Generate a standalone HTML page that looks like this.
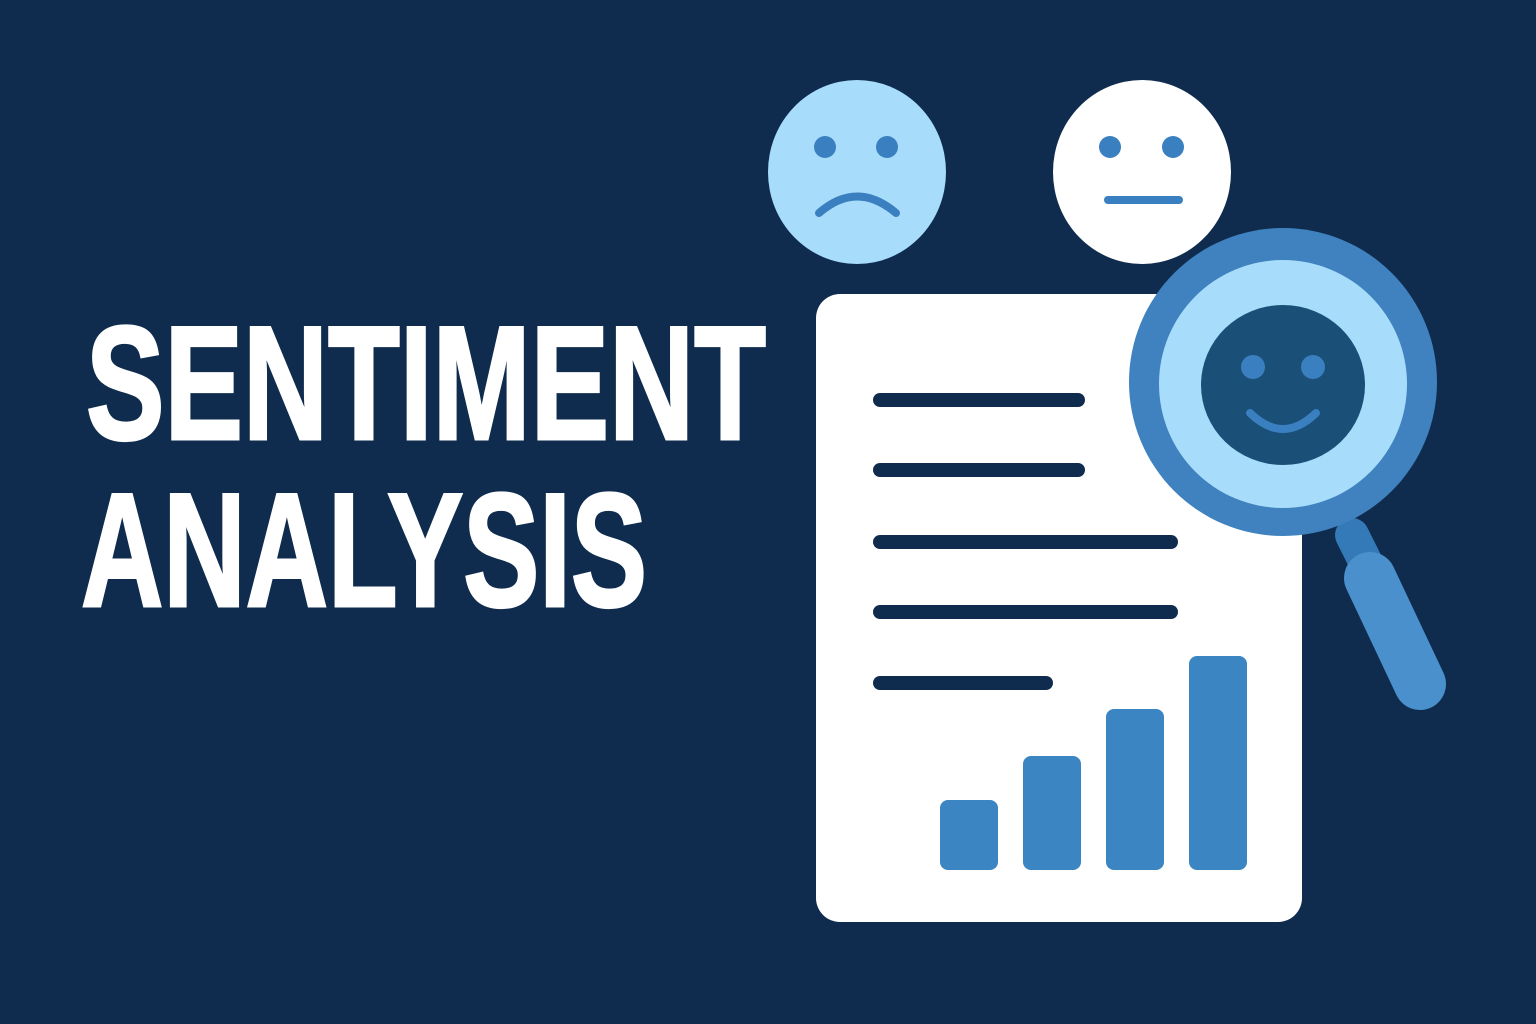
<!DOCTYPE html>
<html><head><meta charset="utf-8"><style>
html,body{margin:0;padding:0;background:#0f2c4e;}
svg{display:block}
</style></head><body>
<svg width="1536" height="1024" viewBox="0 0 1536 1024">
<rect width="1536" height="1024" fill="#0f2c4e"/>
<text x="86" y="439" font-family="Liberation Sans, sans-serif" font-weight="bold" font-size="162" fill="#fff" stroke="#fff" stroke-width="3" textLength="680" lengthAdjust="spacingAndGlyphs">SENTIMENT</text>
<text x="81" y="606" font-family="Liberation Sans, sans-serif" font-weight="bold" font-size="162" fill="#fff" stroke="#fff" stroke-width="3" textLength="566" lengthAdjust="spacingAndGlyphs">ANALYSIS</text>

<g>
<ellipse cx="857" cy="172" rx="89" ry="92" fill="#a8dcfb"/>
<circle cx="825" cy="147" r="11" fill="#3a7fc0"/>
<circle cx="887" cy="147" r="11" fill="#3a7fc0"/>
<path d="M819 213 Q857 180 896 213" stroke="#3a7fc0" stroke-width="8" fill="none" stroke-linecap="round"/>
</g>
<g>
<ellipse cx="1142" cy="172" rx="89" ry="92" fill="#fff"/>
<circle cx="1110" cy="147" r="11" fill="#3a7fc0"/>
<circle cx="1173" cy="147" r="11" fill="#3a7fc0"/>
<line x1="1108" y1="200" x2="1179" y2="200" stroke="#3a7fc0" stroke-width="8" stroke-linecap="round"/>
</g>

<rect x="816" y="294" width="486" height="628" rx="24" fill="#fff"/>
<g stroke="#0f2c4e" stroke-width="14" stroke-linecap="round">
<line x1="880" y1="400" x2="1078" y2="400"/>
<line x1="880" y1="470" x2="1078" y2="470"/>
<line x1="880" y1="542" x2="1171" y2="542"/>
<line x1="880" y1="612" x2="1171" y2="612"/>
<line x1="880" y1="683" x2="1046" y2="683"/>
</g>
<g id="bars"></g>

<g>
<line x1="1352" y1="535" x2="1372" y2="575" stroke="#3479b8" stroke-width="34" stroke-linecap="round"/>
<line x1="1370" y1="578" x2="1420" y2="684" stroke="#4a90cc" stroke-width="52" stroke-linecap="round"/>
<circle cx="1283" cy="382" r="154" fill="#3f82bf"/>
<circle cx="1283" cy="384" r="124" fill="#a8dcfb"/>
<ellipse cx="1283" cy="385" rx="82" ry="80" fill="#1a5078"/>
<circle cx="1253" cy="367" r="12" fill="#3a7fc0"/>
<circle cx="1313" cy="367" r="12" fill="#3a7fc0"/>
<path d="M1250 413 Q1283 445 1316 413" stroke="#3a7fc0" stroke-width="8" fill="none" stroke-linecap="round"/>
</g>
</svg>
<script>
const categories = ["b1","b2","b3","b4"];
const values = [70,114,161,214];
const g = document.getElementById('bars');
const baseY = 870, x0 = 940, step = 83, bw = 58;
function yScale(v){ return baseY - v; }
categories.forEach((c,i)=>{
  const r = document.createElementNS('http://www.w3.org/2000/svg','rect');
  r.setAttribute('x', x0 + i*step);
  r.setAttribute('y', yScale(values[i]));
  r.setAttribute('width', bw);
  r.setAttribute('height', baseY - yScale(values[i]));
  r.setAttribute('rx', 8);
  r.setAttribute('fill', '#3a85c2');
  
  
  g.appendChild(r);
});
</script>
</body></html>
